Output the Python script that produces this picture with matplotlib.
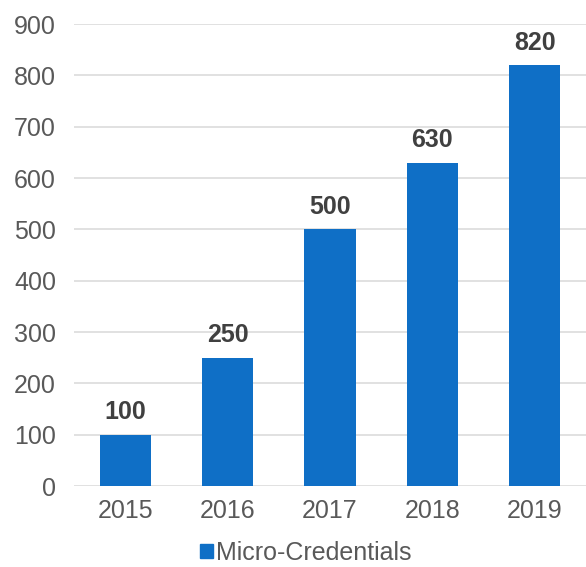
import matplotlib.pyplot as plt
from matplotlib.patches import Patch

years = ['2015', '2016', '2017', '2018', '2019']
values = [100, 250, 500, 630, 820]
series_name = 'Micro-Credentials'
yticks = [0, 100, 200, 300, 400, 500, 600, 700, 800, 900]

plt.switch_backend('Agg')
plt.rcParams['font.family'] = ['Liberation Sans', 'DejaVu Sans']

fig = plt.figure(figsize=(5.86, 5.67), dpi=100)
ax = fig.add_axes([74 / 586, 81 / 567, 1 - 74 / 586, (486 - 24) / 567])

bar_color = '#0F6FC6'
bars = ax.bar(range(len(years)), values, width=0.5, color=bar_color, zorder=3)

# value labels above the bars
for bar, v in zip(bars, values):
    ax.text(bar.get_x() + bar.get_width() / 2, v + 20, str(v),
            ha='center', va='bottom', fontsize=18, fontweight='bold', color='#404040')

ax.set_xlim(-0.5, len(years) - 0.5)
ax.set_ylim(0, 900)
ax.set_yticks(yticks)
ax.set_xticks(range(len(years)))
ax.set_xticklabels(years)
ax.tick_params(axis='both', length=0, labelsize=18, labelcolor='#595959')
ax.tick_params(axis='y', pad=13)
ax.tick_params(axis='x', pad=9)
ax.grid(axis='y', color='#D9D9D9', linewidth=1.1, zorder=0)
for s in ax.spines.values():
    s.set_visible(False)

handle = Patch(color=bar_color, label=series_name)
fig.legend(handles=[handle], loc='center', bbox_to_anchor=(306 / 586, 14 / 567),
           frameon=False, fontsize=18, labelcolor='#595959',
           handlelength=0.5, handleheight=0.5, handletextpad=0.15)

fig.savefig('out.png', dpi=100)
plt.close(fig)
